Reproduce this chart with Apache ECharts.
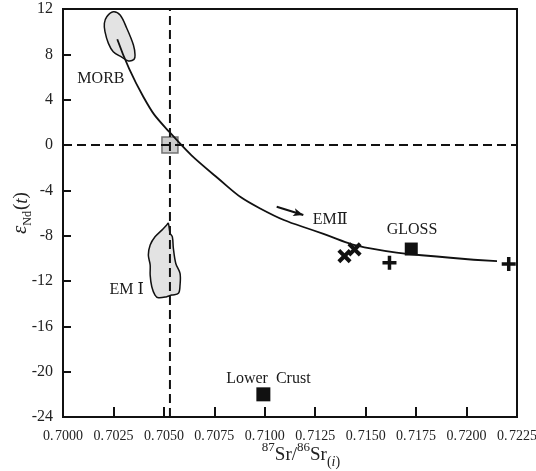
<!DOCTYPE html>
<html>
<head>
<meta charset="utf-8">
<script src="https://cdn.jsdelivr.net/npm/echarts@6/dist/echarts.min.js"></script>
<style>
  html, body { margin: 0; padding: 0; background: #fff; }
  #chart { width: 536px; height: 471px; }
</style>
</head>
<body>
<div id="chart"></div>
<script>
// axis ticks
var xTicks = [0.7000, 0.7025, 0.7050, 0.7075, 0.7100, 0.7125, 0.7150, 0.7175, 0.7200, 0.7225];
var yTicks = [-24, -20, -16, -12, -8, -4, 0, 4, 8, 12];

// mixing curve
var curve = [
  [0.70269, 9.33], [0.70398, 4.26], [0.70527, 1.15], [0.70762, -2.85],
  [0.70977, -5.60], [0.71291, -7.85], [0.71523, -9.12], [0.71920, -9.95],
  [0.72151, -10.24]
];

// sample points
var crossPts = [[0.71395, -9.80], [0.71445, -9.21]];
var plusPts = [[0.71618, -10.39], [0.72209, -10.50]];
var glossPt = [[0.71726, -9.18]];
var lowerCrustPt = [[0.70993, -22.0]];
var bsePt = [[0.7053, 0]];

// end-member fields
var morbField = [
  [0.70249, 11.76], [0.70283, 11.47], [0.70316, 10.30], [0.70349, 8.82],
  [0.70357, 7.94], [0.70352, 7.55], [0.70324, 7.42], [0.70291, 7.75],
  [0.70249, 8.23], [0.70225, 8.97], [0.70208, 10.00], [0.70205, 10.74],
  [0.70217, 11.32]
];
var em1Field = [
  [0.70522, -6.91], [0.70531, -7.80], [0.70542, -8.10], [0.70547, -9.12],
  [0.70559, -10.45], [0.70580, -11.33], [0.70580, -12.36], [0.70572, -13.09],
  [0.70539, -13.24], [0.70514, -13.39], [0.70473, -13.48], [0.70456, -13.24],
  [0.70440, -12.51], [0.70432, -11.48], [0.70432, -10.59], [0.70423, -9.71],
  [0.70432, -8.83], [0.70456, -8.10], [0.70490, -7.51], [0.70514, -7.06]
];

// reference lines
var refX = 0.7053;
var refY = 0;

// labels [x, y, text]
var labels = [
  [0.70188, 5.82, 'MORB'],
  [0.70315, -12.74, 'EM Ⅰ'],
  [0.71324, -6.62, 'EMⅡ'],
  [0.71730, -7.51, 'GLOSS'],
  [0.71018, -20.6, 'Lower  Crust']
];
var arrow = [[0.71059, -5.45], [0.71191, -6.18]];

var serif = '"Liberation Serif", "DejaVu Serif", serif';
var plusPath = 'path://M0,4.5H4.5V0H7.5V4.5H12V7.5H7.5V12H4.5V7.5H0Z';
var xMin = xTicks[0], xMax = xTicks[xTicks.length - 1];
var yMin = yTicks[0], yMax = yTicks[yTicks.length - 1];

function fieldSeries(pts) {
  return {
    type: 'custom',
    coordinateSystem: 'cartesian2d',
    data: [0],
    z: 2,
    silent: true,
    renderItem: function (params, api) {
      var p = pts.map(function (d) { return api.coord(d); });
      return {
        type: 'polygon',
        shape: { points: p, smooth: 0.35 },
        style: { fill: '#e3e3e3', stroke: '#111', lineWidth: 1.5 }
      };
    }
  };
}

function dashSeries(pts) {
  return {
    type: 'line',
    data: pts,
    showSymbol: false,
    silent: true,
    z: 4,
    lineStyle: { color: '#111', width: 2, type: [9, 5] }
  };
}

function markSeries(name, pts, symbol, size, rotate) {
  return {
    name: name,
    type: 'scatter',
    data: pts,
    symbol: symbol,
    symbolSize: size,
    symbolRotate: rotate || 0,
    z: 6,
    itemStyle: { color: '#111', opacity: 1 }
  };
}

var chart = echarts.init(document.getElementById('chart'));
var option = {
  animation: false,
  backgroundColor: '#fff',
  grid: {
    left: 63, right: 19, top: 9, bottom: 54,
    outerBoundsMode: 'none',
    containLabel: false,
    show: true, borderColor: '#111', borderWidth: 2
  },
  xAxis: {
    type: 'value',
    min: xMin,
    max: xMax,
    interval: 0.0025,
    splitLine: { show: false },
    axisLine: { onZero: false, lineStyle: { color: '#111', width: 2 } },
    axisTick: { inside: true, length: 10, lineStyle: { color: '#111', width: 2 } },
    axisLabel: {
      color: '#222', fontFamily: serif, fontSize: 14, margin: 12,
      formatter: function (v) {
        var s = v.toFixed(4);
        return '{n|' + s.slice(0, 2) + '}{m|' + s.slice(2) + '}';
      },
      rich: {
        n: { fontFamily: serif, fontSize: 14, color: '#222', padding: [0, 1.5, 0, 0] },
        m: { fontFamily: serif, fontSize: 14, color: '#222' }
      }
    },
    name: '{sup|87}{b|Sr/}{sup|86}{b|Sr}{sub|(}{subi|i}{sub|)}',
    nameLocation: 'middle',
    nameGap: 24,
    nameMoveOverlap: false,
    nameTextStyle: {
      padding: [0, 0, 0, 22],
      rich: {
        b: { fontFamily: serif, fontSize: 19, color: '#222', verticalAlign: 'bottom', lineHeight: 24 },
        sup: { fontFamily: serif, fontSize: 13, color: '#222', verticalAlign: 'top', lineHeight: 24 },
        sub: { fontFamily: serif, fontSize: 14, color: '#222', verticalAlign: 'bottom', lineHeight: 20, padding: [0, 0, -4, 0] },
        subi: { fontFamily: serif, fontSize: 14, fontStyle: 'italic', color: '#222', verticalAlign: 'bottom', lineHeight: 20, padding: [0, 0, -4, 0] }
      }
    }
  },
  yAxis: {
    type: 'value',
    min: yMin,
    max: yMax,
    interval: 4,
    splitLine: { show: false },
    axisLine: { onZero: false, lineStyle: { color: '#111', width: 2 } },
    axisTick: { inside: true, length: 8, lineStyle: { color: '#111', width: 2 } },
    axisLabel: { color: '#222', fontFamily: serif, fontSize: 16, margin: 10 },
    name: '{e|ε}{s|Nd}{b|(}{i|t}{b|)}',
    nameLocation: 'middle',
    nameRotate: 90,
    nameGap: 32,
    nameMoveOverlap: false,
    nameTextStyle: {
      rich: {
        e: { fontFamily: serif, fontSize: 21, fontStyle: 'italic', color: '#222', verticalAlign: 'bottom', lineHeight: 24 },
        s: { fontFamily: serif, fontSize: 12, color: '#222', verticalAlign: 'bottom', lineHeight: 20, padding: [0, 1, -3, 0] },
        b: { fontFamily: serif, fontSize: 19, color: '#222', verticalAlign: 'bottom', lineHeight: 24 },
        i: { fontFamily: serif, fontSize: 19, fontStyle: 'italic', color: '#222', verticalAlign: 'bottom', lineHeight: 24 }
      }
    }
  },
  series: [
    fieldSeries(morbField),
    fieldSeries(em1Field),
    {
      name: 'BSE',
      type: 'scatter',
      data: bsePt,
      symbol: 'rect',
      symbolSize: 16,
      z: 3,
      itemStyle: { color: '#c6c6c6', borderColor: '#666', borderWidth: 1.5, opacity: 0.9 }
    },
    dashSeries([[refX, yMin], [refX, yMax]]),
    dashSeries([[xMin, refY], [xMax, refY]]),
    {
      name: 'curve',
      type: 'line',
      data: curve,
      smooth: 0.5,
      showSymbol: false,
      z: 5,
      lineStyle: { color: '#111', width: 1.8 }
    },
    {
      name: 'arrow',
      type: 'line',
      data: [],
      z: 5,
      markLine: {
        silent: true,
        symbol: ['none', 'arrow'],
        symbolSize: [6, 10],
        label: { show: false },
        lineStyle: { color: '#111', width: 2, type: 'solid' },
        data: [[{ coord: arrow[0] }, { coord: arrow[1] }]]
      }
    },
    markSeries('cross', crossPts, plusPath, 16, 45),
    markSeries('plus', plusPts, plusPath, 14),
    markSeries('GLOSS', glossPt, 'rect', 13),
    markSeries('Lower Crust', lowerCrustPt, 'rect', 14),
    {
      name: 'labels',
      type: 'scatter',
      data: labels.map(function (l) { return { value: [l[0], l[1]], name: l[2] }; }),
      symbolSize: 0,
      z: 7,
      silent: true,
      itemStyle: { opacity: 1 },
      label: {
        show: true,
        position: 'inside',
        formatter: '{b}',
        fontFamily: serif,
        fontSize: 16,
        color: '#1a1a1a'
      }
    }
  ]
};
chart.setOption(option);
</script>
</body>
</html>
